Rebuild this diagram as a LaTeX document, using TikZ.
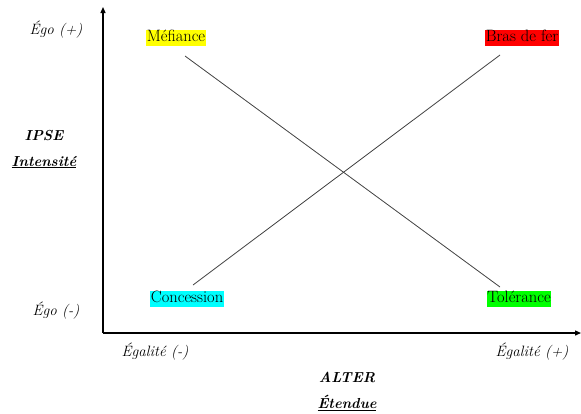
\documentclass[tikz,border=0pt]{standalone}
\usepackage{fontspec}
\usepackage{tikz}
\usetikzlibrary{arrows.meta}
\definecolor{HlYellow}{HTML}{FFFF00}
\definecolor{HlRed}{HTML}{FF0000}
\definecolor{HlCyan}{HTML}{00FFFF}
\definecolor{HlGreen}{HTML}{00FF00}
\definecolor{CrossGray}{HTML}{404040}

\begin{document}
\begin{tikzpicture}[x=1pt, y=-1pt,
  axis/.style={line width=1.3pt, -{Triangle[length=6pt, width=5pt]}},
  tick/.style={font=\fontsize{15}{17}\selectfont\itshape},
  title/.style={font=\fontsize{14.5}{17}\selectfont\bfseries\itshape},
  quadrant/.style={inner xsep=0.8pt, inner ysep=1pt, text height=11pt, text depth=3.5pt,
    font=\fontsize{16.5}{18}\selectfont},
  cross/.style={CrossGray, line width=0.8pt}]
  \useasboundingbox (0,0) rectangle (581,413);
  % Axes
  \coordinate (origin) at (103,333);
  \coordinate (ytop) at (103,7);
  \coordinate (xend) at (581,333);
  \draw[axis] (origin) -- (ytop);
  \draw[axis] (origin) -- (xend);
  % Ego / Egalite ticks
  \node[tick] (egoplus) at (56,30) {Égo (+)};
  \node[tick] (egominus) at (56,311) {Égo (-)};
  \node[tick] (egalminus) at (155,352) {Égalité (-)};
  \node[tick] (egalplus) at (532,352) {Égalité (+)};
  % Axis titles
  \node[title] (ipse) at (44,136) {IPSE};
  \node[title] (intens) at (44,162) {\underline{Intensité}};
  \node[title] (alter) at (347,377) {ALTER};
  \node[title] (etend) at (347,403) {\underline{Étendue}};
  % Quadrants
  \node[quadrant, fill=HlYellow] (mef) at (176,38) {Méfiance};
  \node[quadrant, fill=HlRed] (bras) at (522,38) {Bras de fer};
  \node[quadrant, fill=HlCyan] (conc) at (187,299) {Concession};
  \node[quadrant, fill=HlGreen] (tol) at (519,299) {Tolérance};
  % Crossing lines
  \coordinate (mefend) at (185,56);
  \coordinate (tolend) at (500,287);
  \coordinate (brasend) at (500,55);
  \coordinate (concend) at (193,285);
  \draw[cross] (mefend) -- (tolend);
  \draw[cross] (concend) -- (brasend);
\end{tikzpicture}
\end{document}
